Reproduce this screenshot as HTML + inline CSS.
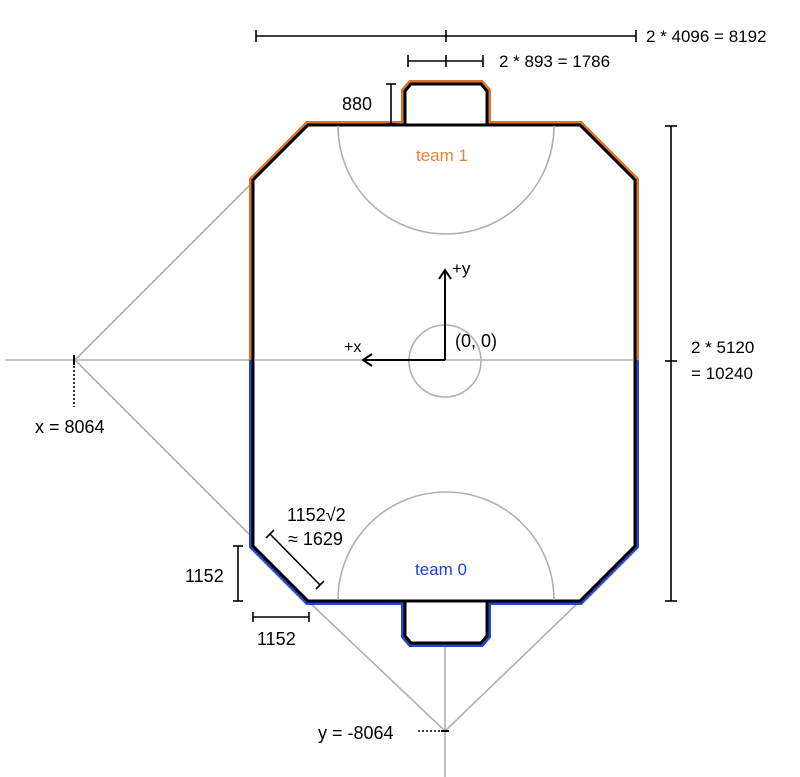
<!DOCTYPE html>
<html><head><style>body{margin:0;background:#fff}svg{display:block}text{font-family:"Liberation Sans",sans-serif;font-size:18px;fill:#000}</style></head>
<body>
<svg width="800" height="777" viewBox="0 0 800 777" xmlns="http://www.w3.org/2000/svg">
<g stroke="#b0b0b0" stroke-width="1.6" fill="none">
<line x1="5" y1="360" x2="253" y2="360"/>
<line x1="75" y1="360" x2="253" y2="182"/>
<line x1="75" y1="360" x2="253" y2="538"/>
<line x1="308" y1="601" x2="445" y2="731"/>
<line x1="580" y1="601" x2="445" y2="731"/>
<line x1="445" y1="645" x2="445" y2="777"/>
</g>
<path d="M253,360 L253,180 L308,125 L405,125 L405,91 L411,84 L481,84 L487,91 L487,125 L580,125 L635,180 L635,360" fill="none" stroke="#d9742e" stroke-width="8" stroke-linejoin="miter"/>
<path d="M253,360 L253,546 L308,601 L405,601 L405,636 L411,643 L481,643 L487,636 L487,601 L580,601 L635,546 L635,360" fill="none" stroke="#2a45c8" stroke-width="8" stroke-linejoin="miter"/>
<path d="M253,180 L308,125 L405,125 L405,91 L411,84 L481,84 L487,91 L487,125 L580,125 L635,180 L635,546 L580,601 L487,601 L487,636 L481,643 L411,643 L405,636 L405,601 L308,601 L253,546 Z" fill="#fff" stroke="#000" stroke-width="3"/>
<line x1="405" y1="125" x2="487" y2="125" stroke="#000" stroke-width="3"/>
<line x1="405" y1="601" x2="487" y2="601" stroke="#000" stroke-width="3"/>
<g stroke="#b0b0b0" stroke-width="1.6" fill="none">
<line x1="254" y1="360" x2="634" y2="360"/>
<circle cx="445" cy="361" r="36"/>
<path d="M338,126 A108,108 0 0 0 554,126"/>
<path d="M338,600 A108,108 0 0 1 554,600"/>
</g>
<g stroke="#000" stroke-width="2" fill="none">
<line x1="445" y1="360" x2="445" y2="271"/>
<polyline points="439,279 445,270 451,279"/>
<line x1="445" y1="360" x2="363" y2="360"/>
<polyline points="372,354 363,360 372,366"/>
</g>
<text x="452" y="274" style="font-size:17px">+y</text>
<text x="344" y="352" style="font-size:16px">+x</text>
<text x="455" y="347">(0, 0)</text>
<text x="416" y="161" style="fill:#e8823a;font-size:17px">team 1</text>
<text x="415" y="575" style="fill:#1f3fe0;font-size:17px">team 0</text>
<g stroke="#000" stroke-width="1.6" fill="none">
<line x1="256" y1="36" x2="636" y2="36"/><line x1="256" y1="30" x2="256" y2="42"/><line x1="446" y1="30" x2="446" y2="42"/><line x1="636" y1="30" x2="636" y2="42"/>
<line x1="408" y1="61" x2="483" y2="61"/><line x1="408" y1="55" x2="408" y2="67"/><line x1="446" y1="55" x2="446" y2="67"/><line x1="483" y1="55" x2="483" y2="67"/>
<line x1="391" y1="84" x2="391" y2="124"/><line x1="386" y1="84" x2="396" y2="84"/><line x1="386" y1="124" x2="396" y2="124"/>
<line x1="671" y1="126" x2="671" y2="601"/><line x1="665" y1="126" x2="677" y2="126"/><line x1="665" y1="361" x2="677" y2="361"/><line x1="665" y1="601" x2="677" y2="601"/>
<line x1="238" y1="546" x2="238" y2="601"/><line x1="233" y1="546" x2="243" y2="546"/><line x1="233" y1="601" x2="243" y2="601"/>
<line x1="253" y1="617" x2="309" y2="617"/><line x1="253" y1="612" x2="253" y2="622"/><line x1="309" y1="612" x2="309" y2="622"/>
<line x1="270" y1="534" x2="320" y2="585"/><line x1="266" y1="538" x2="274" y2="530"/><line x1="316" y1="589" x2="324" y2="581"/>
</g>
<g stroke="#000" stroke-width="1.6" stroke-dasharray="2,2">
<line x1="74" y1="362" x2="74" y2="407"/>
<line x1="418" y1="731" x2="444" y2="731"/>
</g>
<line x1="74" y1="355" x2="74" y2="365" stroke="#000" stroke-width="2"/>
<line x1="441" y1="731" x2="449" y2="731" stroke="#000" stroke-width="2"/>
<text x="646" y="42" style="font-size:17px">2 * 4096 = 8192</text>
<text x="499" y="67" style="font-size:17px">2 * 893 = 1786</text>
<text x="342" y="110">880</text>
<text x="691" y="353" style="font-size:17px">2 * 5120</text>
<text x="691" y="379" style="font-size:17px">= 10240</text>
<text x="35" y="433">x = 8064</text>
<text x="318" y="739">y = -8064</text>
<text x="185" y="582">1152</text>
<text x="257" y="645">1152</text>
<text x="287" y="521">1152√2</text>
<text x="288" y="545">≈ 1629</text>
</svg>
</body></html>
